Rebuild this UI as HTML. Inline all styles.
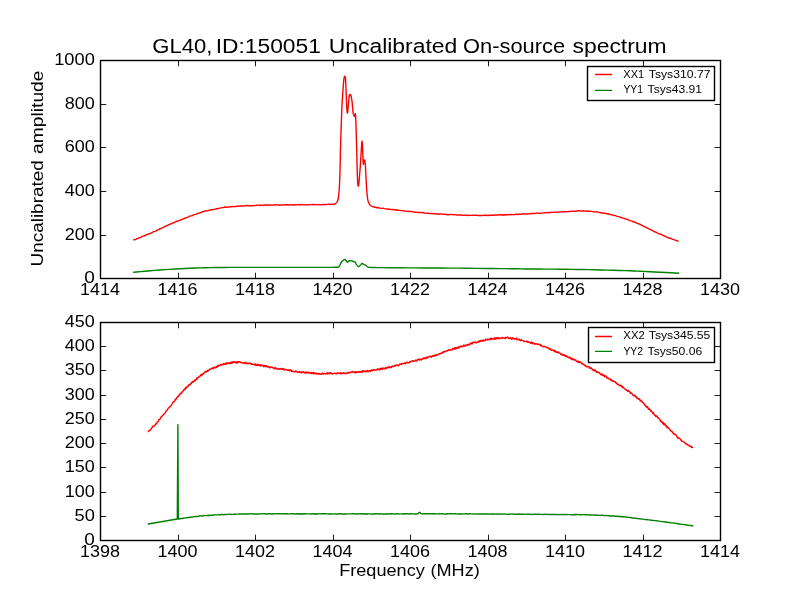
<!DOCTYPE html>
<html><head><meta charset="utf-8"><style>
html,body{margin:0;padding:0;background:#fff;}
svg{display:block;will-change:transform;}
text{font-family:"Liberation Sans",sans-serif;fill:#000;}
</style></head><body>
<svg width="800" height="600" viewBox="0 0 800 600">
<rect x="0" y="0" width="800" height="600" fill="#fff"/>
<text x="152.37" y="52.80" font-size="19.4" textLength="60.03" lengthAdjust="spacingAndGlyphs">GL40,</text><text x="215.72" y="52.80" font-size="19.4" textLength="105.10" lengthAdjust="spacingAndGlyphs">ID:150051</text><text x="328.67" y="52.80" font-size="19.4" textLength="128.72" lengthAdjust="spacingAndGlyphs">Uncalibrated</text><text x="462.97" y="52.80" font-size="19.4" textLength="102.16" lengthAdjust="spacingAndGlyphs">On-source</text><text x="572.44" y="52.80" font-size="19.4" textLength="94.24" lengthAdjust="spacingAndGlyphs">spectrum</text>
<g fill="none" stroke-linejoin="round" stroke-linecap="butt">
<polyline points="133.75,239.82 134.75,239.77 135.75,239.33 136.75,238.67 137.75,238.39 138.75,237.96 139.75,237.66 140.75,237.33 141.75,236.58 142.75,236.14 143.75,236.14 144.75,235.54 145.75,235.30 146.75,234.51 147.75,234.32 148.75,234.04 149.75,233.38 150.75,233.32 151.75,232.88 152.75,232.02 153.75,231.59 154.75,231.41 155.75,231.17 156.75,230.44 157.75,229.91 158.75,229.55 159.75,228.88 160.75,228.50 161.75,228.13 162.75,227.68 163.75,227.07 164.75,226.58 165.75,226.10 166.75,225.74 167.75,225.18 168.75,224.57 169.75,224.51 170.75,223.91 171.75,223.50 172.75,222.83 173.75,222.80 174.75,222.31 175.75,221.52 176.75,221.22 177.75,221.01 178.75,220.61 179.75,220.33 180.75,219.69 181.75,219.51 182.75,219.05 183.75,218.50 184.75,218.27 185.75,218.04 186.75,217.66 187.75,217.12 188.75,216.80 189.75,216.16 190.75,215.91 191.75,215.83 192.75,215.28 193.75,214.80 194.75,214.63 195.75,214.34 196.75,213.97 197.75,213.45 198.75,213.12 199.75,212.79 200.75,212.58 201.75,212.12 202.75,211.76 203.75,211.53 204.75,211.05 205.75,210.81 206.75,210.91 207.75,210.83 208.75,210.41 209.75,210.10 210.75,209.77 211.75,209.73 212.75,209.76 213.75,209.45 214.75,209.13 215.75,209.09 216.75,208.58 217.75,208.53 218.75,208.55 219.75,208.18 220.75,207.94 221.75,207.66 222.75,207.63 223.75,207.67 224.75,207.04 225.75,207.29 226.75,207.18 227.75,207.11 228.75,206.95 229.75,206.91 230.75,206.71 231.75,206.68 232.75,206.57 233.75,206.33 234.75,206.68 235.75,206.47 236.75,206.21 237.75,206.29 238.75,206.21 239.75,206.07 240.75,205.99 241.75,206.02 242.75,206.00 243.75,205.93 244.75,205.80 245.75,205.54 246.75,205.59 247.75,205.53 248.75,205.69 249.75,205.79 250.75,205.73 251.75,205.70 252.75,205.68 253.75,205.37 254.75,205.64 255.75,205.53 256.75,205.21 257.75,205.15 258.75,205.13 259.75,205.48 260.75,205.20 261.75,205.11 262.75,205.35 263.75,205.19 264.75,205.03 265.75,205.05 266.75,205.22 267.75,205.02 268.75,205.05 269.75,205.25 270.75,205.11 271.75,205.02 272.75,205.08 273.75,204.84 274.75,205.00 275.75,205.00 276.75,204.87 277.75,204.82 278.75,205.19 279.75,204.98 280.75,204.82 281.75,205.00 282.75,205.09 283.75,204.68 284.75,204.66 285.75,204.71 286.75,204.99 287.75,204.70 288.75,204.96 289.75,204.93 290.75,204.85 291.75,204.68 292.75,205.05 293.75,204.95 294.75,204.80 295.75,204.65 296.75,204.85 297.75,204.72 298.75,204.80 299.75,204.66 300.75,204.81 301.75,204.52 302.75,204.63 303.75,204.96 304.75,204.91 305.75,204.62 306.75,204.88 307.75,204.60 308.75,204.91 309.75,204.81 310.75,204.64 311.75,204.55 312.75,204.42 313.75,204.85 314.75,204.42 315.75,204.80 316.75,204.86 317.75,204.66 318.75,204.45 319.75,204.78 320.75,204.82 321.75,204.68 322.75,204.56 323.75,204.48 324.75,204.45 325.75,204.36 326.75,204.58 327.75,204.43 328.75,204.29 329.75,204.22 330.75,204.48 331.75,204.27 332.75,204.35 333.75,204.23 334.25,204.49 334.50,204.20 334.75,204.01 335.11,203.76 335.53,203.46 335.97,203.11 336.39,202.70 336.75,202.25 337.05,201.81 337.32,201.38 337.57,200.91 337.81,200.32 338.03,199.54 338.25,198.50 338.46,197.23 338.65,195.78 338.83,194.14 338.99,192.31 339.15,190.26 339.30,188.00 339.44,185.49 339.57,182.72 339.68,179.75 339.79,176.61 339.90,173.35 340.00,170.00 340.09,166.51 340.17,162.83 340.25,159.03 340.32,155.17 340.40,151.30 340.50,147.50 340.61,143.72 340.73,139.91 340.86,136.09 340.99,132.31 341.12,128.61 341.25,125.00 341.37,121.46 341.49,117.96 341.61,114.53 341.73,111.20 341.86,108.02 342.00,105.00 342.15,102.18 342.31,99.53 342.48,97.01 342.65,94.61 342.82,92.28 343.00,90.00 343.18,87.66 343.35,85.27 343.53,82.96 343.71,80.86 343.90,79.09 344.10,77.80 344.31,76.95 344.54,76.44 344.78,76.28 345.01,76.44 345.22,76.95 345.40,77.80 345.54,79.06 345.64,80.75 345.73,82.77 345.81,85.05 345.90,87.49 346.00,90.00 346.12,92.81 346.26,96.05 346.39,99.45 346.53,102.75 346.67,105.69 346.80,108.00 346.92,109.74 347.04,111.11 347.15,112.12 347.26,112.78 347.38,113.07 347.50,113.00 347.63,112.43 347.75,111.33 347.88,109.88 348.01,108.22 348.15,106.54 348.30,105.00 348.46,103.47 348.62,101.80 348.79,100.09 348.96,98.48 349.13,97.08 349.30,96.00 349.47,95.27 349.63,94.80 349.80,94.53 349.97,94.43 350.13,94.43 350.30,94.50 350.47,94.64 350.64,94.91 350.81,95.28 350.97,95.76 351.14,96.33 351.30,97.00 351.46,97.76 351.61,98.63 351.76,99.59 351.91,100.65 352.06,101.79 352.20,103.00 352.34,104.40 352.47,106.00 352.61,107.69 352.74,109.33 352.87,110.81 353.00,112.00 353.13,112.86 353.27,113.50 353.41,113.97 353.54,114.33 353.67,114.66 353.80,115.00 353.92,115.38 354.05,115.76 354.17,116.09 354.29,116.35 354.40,116.50 354.50,116.50 354.59,116.27 354.68,115.83 354.76,115.28 354.84,114.72 354.92,114.26 355.00,114.00 355.08,113.85 355.17,113.70 355.25,113.66 355.33,113.80 355.42,114.21 355.50,115.00 355.58,116.10 355.66,117.44 355.74,119.06 355.82,121.00 355.91,123.30 356.00,126.00 356.10,129.19 356.21,132.85 356.33,136.88 356.45,141.15 356.58,145.56 356.70,150.00 356.83,154.80 356.95,160.12 357.08,165.58 357.21,170.80 357.35,175.40 357.50,179.00 357.65,181.67 357.80,183.73 357.96,185.17 358.12,185.99 358.30,186.18 358.50,185.75 358.73,184.42 358.98,182.14 359.25,179.23 359.52,176.03 359.77,172.84 360.00,170.00 360.20,167.44 360.37,164.90 360.53,162.38 360.69,159.88 360.84,157.42 361.00,155.00 361.17,152.36 361.34,149.46 361.52,146.58 361.69,144.04 361.85,142.15 362.00,141.20 362.14,141.36 362.26,142.43 362.38,144.14 362.49,146.23 362.59,148.44 362.70,150.50 362.81,152.70 362.91,155.30 363.01,158.02 363.10,160.57 363.20,162.66 363.30,164.00 363.40,164.43 363.49,164.14 363.58,163.39 363.68,162.44 363.78,161.56 363.90,161.00 364.04,160.68 364.19,160.36 364.35,160.11 364.51,159.97 364.66,160.00 364.80,160.25 364.92,160.70 365.02,161.31 365.12,162.08 365.21,163.03 365.30,164.16 365.40,165.50 365.50,167.07 365.59,168.89 365.68,170.89 365.78,173.03 365.88,175.25 366.00,177.50 366.13,179.90 366.26,182.50 366.40,185.19 366.56,187.83 366.72,190.31 366.90,192.50 367.08,194.40 367.26,196.11 367.44,197.66 367.66,199.06 367.92,200.33 368.25,201.50 368.63,202.55 369.04,203.44 369.51,204.22 370.02,204.89 370.60,205.48 371.25,206.00 372.06,206.44 373.03,206.78 374.06,207.03 375.06,207.22 375.90,207.37 376.50,207.50 376.50,207.80 377.50,207.48 378.50,207.70 379.50,207.89 380.50,208.34 381.50,208.36 382.50,208.26 383.50,208.33 384.50,208.68 385.50,208.88 386.50,209.05 387.50,208.88 388.50,209.27 389.50,209.29 390.50,209.31 391.50,209.68 392.50,209.42 393.50,209.78 394.50,209.58 395.50,209.74 396.50,210.22 397.50,209.99 398.50,210.38 399.50,210.41 400.50,210.65 401.50,210.52 402.50,210.62 403.50,210.71 404.50,211.11 405.50,211.09 406.50,211.38 407.50,211.46 408.50,211.19 409.50,211.51 410.50,211.39 411.50,211.46 412.50,211.58 413.50,212.08 414.50,212.15 415.50,212.27 416.50,212.12 417.50,212.36 418.50,212.54 419.50,212.43 420.50,212.62 421.50,212.54 422.50,212.57 423.50,212.75 424.50,213.16 425.50,213.09 426.50,213.36 427.50,213.21 428.50,213.21 429.50,213.55 430.50,213.65 431.50,213.32 432.50,213.73 433.50,213.51 434.50,213.59 435.50,214.05 436.50,213.69 437.50,213.85 438.50,214.29 439.50,214.06 440.50,213.96 441.50,214.04 442.50,214.13 443.50,214.43 444.50,214.16 445.50,214.62 446.50,214.40 447.50,214.74 448.50,214.76 449.50,214.50 450.50,214.52 451.50,214.68 452.50,214.53 453.50,214.85 454.50,214.58 455.50,214.61 456.50,215.13 457.50,214.83 458.50,215.01 459.50,214.98 460.50,214.94 461.50,214.85 462.50,215.31 463.50,215.37 464.50,215.40 465.50,215.00 466.50,215.08 467.50,215.30 468.50,215.51 469.50,215.31 470.50,215.40 471.50,215.41 472.50,215.22 473.50,215.38 474.50,215.28 475.50,215.26 476.50,215.18 477.50,215.29 478.50,215.64 479.50,215.37 480.50,215.47 481.50,215.46 482.50,215.61 483.50,215.32 484.50,215.27 485.50,215.26 486.50,215.24 487.50,215.49 488.50,215.49 489.50,215.18 490.50,215.17 491.50,215.25 492.50,215.24 493.50,215.22 494.50,215.02 495.50,214.87 496.50,214.96 497.50,214.84 498.50,215.04 499.50,214.77 500.50,214.74 501.50,214.98 502.50,214.77 503.50,214.99 504.50,214.80 505.50,214.95 506.50,214.56 507.50,214.69 508.50,214.80 509.50,214.41 510.50,214.80 511.50,214.38 512.50,214.64 513.50,214.70 514.50,214.58 515.50,214.28 516.50,214.13 517.50,214.29 518.50,214.45 519.50,214.09 520.50,214.34 521.50,213.91 522.50,214.24 523.50,213.75 524.50,213.84 525.50,214.09 526.50,213.98 527.50,213.98 528.50,213.89 529.50,213.79 530.50,213.71 531.50,213.40 532.50,213.47 533.50,213.28 534.50,213.50 535.50,213.43 536.50,213.16 537.50,213.02 538.50,213.41 539.50,213.28 540.50,213.10 541.50,213.04 542.50,213.14 543.50,212.89 544.50,212.81 545.50,212.73 546.50,212.63 547.50,212.46 548.50,212.72 549.50,212.55 550.50,212.57 551.50,212.26 552.50,212.35 553.50,212.18 554.50,212.12 555.50,212.13 556.50,212.36 557.50,212.09 558.50,212.03 559.50,212.08 560.50,211.84 561.50,211.67 562.50,211.87 563.50,211.80 564.50,211.81 565.50,211.64 566.50,211.71 567.50,211.67 568.50,211.36 569.50,211.43 570.50,211.36 571.50,211.18 572.50,211.21 573.50,211.23 574.50,211.35 575.50,211.30 576.50,210.93 577.50,211.07 578.50,210.74 579.50,210.72 580.50,210.91 581.50,211.07 582.50,210.71 583.50,211.01 584.50,211.09 585.50,210.83 586.50,211.07 587.50,211.20 588.50,211.03 589.50,211.27 590.50,211.37 591.50,211.39 592.50,211.63 593.50,211.76 594.50,211.91 595.50,211.85 596.50,211.79 597.50,211.98 598.50,212.12 599.50,212.46 600.50,212.72 601.50,212.54 602.50,213.02 603.50,213.22 604.50,213.21 605.50,213.47 606.50,213.48 607.50,213.96 608.50,213.81 609.50,214.48 610.50,214.61 611.50,214.74 612.50,214.79 613.50,215.35 614.50,215.63 615.50,215.48 616.50,216.08 617.50,216.41 618.50,216.62 619.50,216.95 620.50,217.15 621.50,217.72 622.50,218.08 623.50,218.13 624.50,218.69 625.50,218.85 626.50,219.07 627.50,219.51 628.50,219.77 629.50,220.53 630.50,220.92 631.50,220.86 632.50,221.48 633.50,221.76 634.50,222.00 635.50,222.49 636.50,222.88 637.50,223.55 638.50,223.61 639.50,224.14 640.50,224.72 641.50,224.98 642.50,225.75 643.50,226.22 644.50,226.83 645.50,227.01 646.50,227.54 647.50,228.17 648.50,228.53 649.50,229.18 650.50,229.50 651.50,230.20 652.50,230.74 653.50,231.22 654.50,231.77 655.50,232.03 656.50,232.46 657.50,233.11 658.50,233.52 659.50,233.88 660.50,234.23 661.50,234.63 662.50,234.97 663.50,235.75 664.50,235.83 665.50,236.56 666.50,236.87 667.50,237.48 668.50,237.77 669.50,238.26 670.50,238.22 671.50,238.79 672.50,239.20 673.50,239.44 674.50,239.91 675.50,240.21 676.50,240.67 677.50,240.78 678.00,241.19" stroke="#ff0000" stroke-width="1.4" stroke-linecap="round"/>
<polyline points="133.75,272.20 136.56,271.96 140.42,271.61 145.00,271.21 150.00,270.79 155.10,270.37 160.00,270.00 164.78,269.66 169.72,269.33 174.77,269.01 179.86,268.70 184.96,268.43 190.00,268.20 195.00,268.01 200.00,267.86 205.00,267.74 210.00,267.65 215.00,267.57 220.00,267.50 224.88,267.45 229.63,267.42 234.38,267.41 239.26,267.40 244.42,267.40 250.00,267.40 256.20,267.39 262.96,267.39 270.00,267.39 277.04,267.40 283.80,267.40 290.00,267.40 295.74,267.40 301.26,267.40 306.50,267.41 311.41,267.41 315.93,267.41 320.00,267.40 323.64,267.39 326.89,267.37 329.75,267.36 332.22,267.34 334.31,267.32 336.00,267.30 337.15,267.30 337.72,267.31 337.91,267.32 337.89,267.31 337.86,267.28 338.00,267.20 338.27,267.10 338.52,266.99 338.75,266.84 338.98,266.65 339.23,266.37 339.50,266.00 339.79,265.48 340.09,264.82 340.41,264.08 340.74,263.33 341.10,262.61 341.50,262.00 341.96,261.46 342.48,260.93 343.03,260.44 343.57,260.02 344.08,259.70 344.50,259.50 344.84,259.46 345.11,259.55 345.34,259.74 345.56,259.99 345.77,260.25 346.00,260.50 346.24,260.78 346.48,261.13 346.72,261.51 346.96,261.84 347.22,262.09 347.50,262.20 347.80,262.11 348.11,261.87 348.44,261.54 348.78,261.19 349.13,260.88 349.50,260.70 349.88,260.64 350.28,260.63 350.69,260.68 351.11,260.77 351.55,260.88 352.00,261.00 352.49,261.14 353.02,261.29 353.56,261.47 354.09,261.69 354.58,261.93 355.00,262.20 355.33,262.52 355.59,262.90 355.81,263.30 356.02,263.71 356.24,264.12 356.50,264.50 356.80,264.89 357.13,265.32 357.47,265.74 357.81,266.10 358.16,266.37 358.50,266.50 358.84,266.45 359.19,266.26 359.53,265.97 359.87,265.63 360.20,265.29 360.50,265.00 360.77,264.72 361.02,264.41 361.25,264.09 361.48,263.81 361.73,263.61 362.00,263.50 362.30,263.52 362.63,263.65 362.97,263.84 363.31,264.07 363.66,264.30 364.00,264.50 364.33,264.66 364.67,264.81 365.00,264.97 365.33,265.13 365.67,265.30 366.00,265.50 366.31,265.73 366.59,266.00 366.88,266.28 367.19,266.56 367.55,266.80 368.00,267.00 368.27,267.14 368.30,267.25 368.38,267.32 368.81,267.39 369.92,267.44 372.00,267.50 375.02,267.56 378.74,267.61 383.12,267.66 388.15,267.71 393.78,267.75 400.00,267.80 407.06,267.85 415.04,267.89 423.62,267.94 432.52,267.99 441.41,268.04 450.00,268.10 458.56,268.17 467.41,268.26 476.25,268.34 484.81,268.43 492.82,268.52 500.00,268.60 506.16,268.67 511.48,268.75 516.25,268.82 520.74,268.89 525.23,268.95 530.00,269.00 534.94,269.04 539.81,269.07 544.69,269.09 549.63,269.11 554.71,269.15 560.00,269.20 565.54,269.27 571.30,269.36 577.19,269.45 583.15,269.56 589.11,269.67 595.00,269.80 601.01,269.94 607.22,270.11 613.44,270.28 619.44,270.46 625.03,270.63 630.00,270.80 634.10,270.95 637.46,271.09 640.40,271.22 643.25,271.36 646.34,271.52 650.00,271.70 654.61,271.93 659.97,272.21 665.58,272.51 670.90,272.79 675.43,273.03 678.65,273.20" stroke="#008000" stroke-width="1.4" stroke-linecap="round"/>
<polyline points="148.30,431.63 148.80,430.87 149.30,430.50 149.80,430.59 150.30,429.91 150.80,429.08 151.30,428.80 151.80,427.84 152.30,427.04 152.80,426.19 153.30,426.09 153.80,426.07 154.30,425.99 154.80,425.36 155.30,424.31 155.80,424.52 156.30,423.12 156.80,423.15 157.30,421.90 157.80,421.86 158.30,421.67 158.80,419.98 159.30,419.17 159.80,419.28 160.30,418.53 160.80,417.63 161.30,416.44 161.80,416.42 162.30,415.84 162.80,415.17 163.30,415.26 163.80,414.17 164.30,413.77 164.80,413.39 165.30,412.51 165.80,411.45 166.30,411.22 166.80,410.41 167.30,409.79 167.80,409.13 168.30,408.15 168.80,407.88 169.30,407.27 169.80,407.13 170.30,406.27 170.80,405.76 171.30,405.02 171.80,404.48 172.30,403.54 172.80,402.52 173.30,401.78 173.80,401.89 174.30,401.55 174.80,400.42 175.30,399.19 175.80,399.68 176.30,398.53 176.80,397.91 177.30,396.64 177.80,396.80 178.30,396.59 178.80,395.50 179.30,394.82 179.80,394.73 180.30,393.15 180.80,393.37 181.30,393.53 181.80,392.58 182.30,391.58 182.80,391.51 183.30,390.85 183.80,389.69 184.30,389.18 184.80,389.75 185.30,388.26 185.80,387.46 186.30,388.18 186.80,387.20 187.30,386.48 187.80,386.24 188.30,386.14 188.80,384.78 189.30,385.11 189.80,384.77 190.30,384.51 190.80,383.21 191.30,383.34 191.80,382.33 192.30,382.45 192.80,381.43 193.30,382.02 193.80,381.74 194.30,380.47 194.80,379.90 195.30,380.67 195.80,379.85 196.30,379.65 196.80,377.93 197.30,378.90 197.80,378.03 198.30,377.11 198.80,376.87 199.30,376.97 199.80,376.59 200.30,375.23 200.80,375.52 201.30,374.38 201.80,375.29 202.30,374.07 202.80,374.46 203.30,373.81 203.80,373.28 204.30,372.40 204.80,372.50 205.30,371.58 205.80,371.28 206.30,371.92 206.80,371.07 207.30,371.43 207.80,370.35 208.30,370.85 208.80,370.60 209.30,369.70 209.80,369.14 210.30,369.36 210.80,369.28 211.30,368.42 211.80,368.33 212.30,367.89 212.80,368.53 213.30,368.77 213.80,367.47 214.30,366.96 214.80,367.81 215.30,367.77 215.80,367.79 216.30,367.01 216.80,366.37 217.30,366.95 217.80,365.59 218.30,366.30 218.80,365.14 219.30,365.44 219.80,365.40 220.30,365.02 220.80,364.51 221.30,364.43 221.80,365.21 222.30,364.47 222.80,364.51 223.30,363.77 223.80,364.44 224.30,363.69 224.80,363.98 225.30,364.37 225.80,364.39 226.30,362.77 226.80,363.87 227.30,363.87 227.80,362.92 228.30,362.94 228.80,363.17 229.30,363.64 229.80,362.74 230.30,363.44 230.80,363.18 231.30,362.16 231.80,363.32 232.30,361.83 232.80,362.00 233.30,362.79 233.80,361.78 234.30,362.26 234.80,361.84 235.30,362.35 235.80,362.93 236.30,363.03 236.80,361.62 237.30,361.66 237.80,362.91 238.30,361.64 238.80,362.02 239.30,361.78 239.80,361.76 240.30,361.69 240.80,362.69 241.30,362.90 241.80,362.85 242.30,363.15 242.80,362.90 243.30,362.52 243.80,362.96 244.30,363.56 244.80,363.09 245.30,362.52 245.80,362.29 246.30,363.76 246.80,363.28 247.30,362.97 247.80,363.45 248.30,363.45 248.80,363.47 249.30,362.81 249.80,363.35 250.30,363.52 250.80,363.26 251.30,364.43 251.80,363.77 252.30,364.23 252.80,364.40 253.30,364.52 253.80,364.57 254.30,364.70 254.80,363.98 255.30,365.23 255.80,363.99 256.30,365.31 256.80,365.29 257.30,365.38 257.80,364.19 258.30,364.34 258.80,365.59 259.30,365.13 259.80,365.07 260.30,366.14 260.80,364.73 261.30,365.61 261.80,365.56 262.30,365.15 262.80,365.67 263.30,366.26 263.80,366.64 264.30,365.36 264.80,366.25 265.30,365.65 265.80,366.87 266.30,365.82 266.80,365.83 267.30,366.48 267.80,367.13 268.30,366.55 268.80,366.35 269.30,367.51 269.80,367.62 270.30,367.79 270.80,366.99 271.30,367.28 271.80,367.08 272.30,367.67 272.80,367.40 273.30,367.50 273.80,368.30 274.30,368.67 274.80,368.16 275.30,367.48 275.80,368.44 276.30,368.20 276.80,369.15 277.30,368.80 277.80,369.07 278.30,368.94 278.80,368.75 279.30,369.41 279.80,369.39 280.30,368.60 280.80,368.46 281.30,368.88 281.80,369.20 282.30,368.59 282.80,369.06 283.30,369.51 283.80,368.73 284.30,370.04 284.80,369.85 285.30,369.38 285.80,369.43 286.30,369.59 286.80,369.62 287.30,370.38 287.80,370.06 288.30,370.18 288.80,369.65 289.30,370.95 289.80,370.09 290.30,370.17 290.80,369.84 291.30,371.37 291.80,370.65 292.30,371.43 292.80,371.53 293.30,371.68 293.80,371.51 294.30,371.76 294.80,371.84 295.30,371.72 295.80,370.73 296.30,371.43 296.80,371.59 297.30,372.33 297.80,372.07 298.30,372.01 298.80,372.15 299.30,371.60 299.80,372.60 300.30,372.19 300.80,371.87 301.30,372.03 301.80,372.92 302.30,372.26 302.80,371.74 303.30,371.76 303.80,372.68 304.30,372.54 304.80,373.15 305.30,372.04 305.80,372.46 306.30,373.02 306.80,371.98 307.30,372.11 307.80,372.88 308.30,372.47 308.80,372.27 309.30,372.56 309.80,373.20 310.30,373.07 310.80,372.39 311.30,372.42 311.80,373.70 312.30,373.41 312.80,372.69 313.30,373.82 313.80,372.51 314.30,373.09 314.80,373.89 315.30,373.69 315.80,373.03 316.30,374.02 316.80,373.57 317.30,374.02 317.80,374.08 318.30,373.34 318.80,373.76 319.30,373.56 319.80,374.21 320.30,373.98 320.80,373.87 321.30,374.01 321.80,374.31 322.30,373.12 322.80,373.04 323.30,373.91 323.80,373.94 324.30,373.53 324.80,373.48 325.30,373.34 325.80,374.10 326.30,373.95 326.80,373.61 327.30,372.73 327.80,374.01 328.30,373.38 328.80,372.94 329.30,373.10 329.80,373.71 330.30,372.60 330.80,372.78 331.30,373.05 331.80,373.98 332.30,373.74 332.80,374.08 333.30,373.38 333.80,373.41 334.30,373.37 334.80,373.31 335.30,373.32 335.80,373.75 336.30,373.95 336.80,373.06 337.30,373.40 337.80,372.86 338.30,372.84 338.80,373.15 339.30,373.26 339.80,373.18 340.30,373.85 340.80,372.53 341.30,373.27 341.80,373.82 342.30,373.38 342.80,373.09 343.30,372.75 343.80,372.77 344.30,373.60 344.80,373.51 345.30,373.12 345.80,373.45 346.30,373.46 346.80,373.30 347.30,372.52 347.80,372.61 348.30,373.11 348.80,372.39 349.30,372.96 349.80,372.49 350.30,372.22 350.80,372.38 351.30,371.79 351.80,372.14 352.30,372.20 352.80,371.53 353.30,371.74 353.80,371.84 354.30,372.76 354.80,372.30 355.30,371.78 355.80,372.88 356.30,371.66 356.80,372.03 357.30,372.35 357.80,372.24 358.30,371.79 358.80,372.30 359.30,371.80 359.80,372.12 360.30,371.73 360.80,372.45 361.30,372.00 361.80,370.96 362.30,370.98 362.80,372.27 363.30,371.05 363.80,370.67 364.30,370.99 364.80,371.30 365.30,372.01 365.80,371.07 366.30,371.53 366.80,371.66 367.30,370.41 367.80,371.18 368.30,371.74 368.80,370.96 369.30,370.87 369.80,370.51 370.30,371.40 370.80,371.37 371.30,369.91 371.80,370.55 372.30,370.27 372.80,370.59 373.30,369.63 373.80,369.79 374.30,369.73 374.80,369.96 375.30,370.38 375.80,370.40 376.30,370.20 376.80,369.94 377.30,368.90 377.80,369.30 378.30,369.65 378.80,368.96 379.30,369.21 379.80,369.75 380.30,368.39 380.80,369.48 381.30,368.18 381.80,368.53 382.30,369.26 382.80,368.04 383.30,368.45 383.80,368.18 384.30,368.83 384.80,368.89 385.30,367.66 385.80,367.88 386.30,368.42 386.80,367.76 387.30,367.12 387.80,367.89 388.30,367.10 388.80,367.23 389.30,366.36 389.80,367.81 390.30,367.17 390.80,367.49 391.30,367.45 391.80,366.21 392.30,366.53 392.80,366.25 393.30,366.65 393.80,366.66 394.30,365.56 394.80,365.51 395.30,366.08 395.80,365.49 396.30,364.91 396.80,364.89 397.30,365.35 397.80,365.29 398.30,365.74 398.80,364.93 399.30,364.93 399.80,364.06 400.30,364.36 400.80,364.02 401.30,364.55 401.80,363.74 402.30,363.52 402.80,363.64 403.30,363.67 403.80,363.33 404.30,363.63 404.80,362.82 405.30,363.81 405.80,363.39 406.30,363.00 406.80,362.11 407.30,362.41 407.80,362.87 408.30,362.67 408.80,362.81 409.30,362.81 409.80,361.77 410.30,361.93 410.80,361.54 411.30,361.09 411.80,360.99 412.30,361.06 412.80,360.67 413.30,361.27 413.80,361.41 414.30,361.07 414.80,361.14 415.30,360.29 415.80,360.13 416.30,360.60 416.80,360.99 417.30,360.13 417.80,359.35 418.30,359.25 418.80,359.59 419.30,359.97 419.80,359.00 420.30,359.10 420.80,359.71 421.30,360.08 421.80,358.93 422.30,359.22 422.80,358.96 423.30,358.04 423.80,358.41 424.30,357.97 424.80,358.02 425.30,358.72 425.80,358.45 426.30,357.29 426.80,357.21 427.30,358.11 427.80,356.97 428.30,357.17 428.80,356.95 429.30,356.46 429.80,356.28 430.30,356.30 430.80,356.56 431.30,357.26 431.80,356.63 432.30,355.83 432.80,356.37 433.30,355.56 433.80,355.78 434.30,355.30 434.80,356.13 435.30,355.00 435.80,355.55 436.30,355.12 436.80,355.26 437.30,354.71 437.80,354.95 438.30,354.02 438.80,354.28 439.30,354.01 439.80,353.68 440.30,353.55 440.80,353.32 441.30,352.91 441.80,353.54 442.30,352.93 442.80,352.61 443.30,351.64 443.80,352.19 444.30,351.47 444.80,351.36 445.30,351.53 445.80,351.53 446.30,350.88 446.80,350.74 447.30,350.98 447.80,350.72 448.30,350.43 448.80,349.79 449.30,350.05 449.80,350.33 450.30,349.99 450.80,349.83 451.30,350.15 451.80,349.79 452.30,349.57 452.80,348.37 453.30,348.65 453.80,349.09 454.30,348.09 454.80,349.15 455.30,347.76 455.80,348.79 456.30,347.57 456.80,348.42 457.30,348.28 457.80,347.31 458.30,348.04 458.80,346.73 459.30,347.68 459.80,346.78 460.30,346.73 460.80,346.06 461.30,346.69 461.80,346.01 462.30,346.50 462.80,346.56 463.30,346.10 463.80,345.00 464.30,346.37 464.80,346.17 465.30,345.58 465.80,345.02 466.30,345.16 466.80,345.53 467.30,344.71 467.80,345.08 468.30,344.65 468.80,344.22 469.30,344.89 469.80,343.91 470.30,344.08 470.80,343.05 471.30,343.58 471.80,342.74 472.30,343.66 472.80,342.39 473.30,342.31 473.80,342.28 474.30,342.18 474.80,342.63 475.30,342.24 475.80,341.96 476.30,342.96 476.80,342.70 477.30,342.16 477.80,342.26 478.30,342.15 478.80,341.10 479.30,341.86 479.80,340.82 480.30,341.21 480.80,340.76 481.30,340.32 481.80,341.19 482.30,341.29 482.80,340.21 483.30,341.00 483.80,340.04 484.30,340.43 484.80,340.87 485.30,340.41 485.80,339.16 486.30,339.67 486.80,339.48 487.30,339.25 487.80,340.00 488.30,339.31 488.80,339.64 489.30,339.45 489.80,339.18 490.30,338.36 490.80,339.27 491.30,339.54 491.80,338.32 492.30,339.00 492.80,338.69 493.30,338.39 493.80,338.91 494.30,339.28 494.80,337.69 495.30,339.04 495.80,338.17 496.30,338.84 496.80,337.74 497.30,338.56 497.80,337.54 498.30,337.88 498.80,338.86 499.30,338.33 499.80,338.50 500.30,337.96 500.80,337.95 501.30,337.97 501.80,338.40 502.30,338.31 502.80,337.45 503.30,337.84 503.80,337.99 504.30,338.04 504.80,338.60 505.30,338.47 505.80,337.37 506.30,337.74 506.80,337.33 507.30,337.21 507.80,337.30 508.30,337.50 508.80,338.46 509.30,338.33 509.80,338.57 510.30,337.79 510.80,337.62 511.30,338.97 511.80,338.78 512.30,339.03 512.80,337.60 513.30,338.26 513.80,338.71 514.30,338.94 514.80,339.30 515.30,338.78 515.80,338.63 516.30,338.10 516.80,339.47 517.30,339.86 517.80,339.84 518.30,339.56 518.80,339.16 519.30,339.12 519.80,340.09 520.30,340.48 520.80,340.65 521.30,339.52 521.80,340.31 522.30,340.33 522.80,340.33 523.30,341.06 523.80,341.43 524.30,341.23 524.80,341.34 525.30,341.47 525.80,341.55 526.30,341.50 526.80,341.18 527.30,342.18 527.80,341.26 528.30,342.23 528.80,341.95 529.30,342.36 529.80,342.62 530.30,342.48 530.80,343.40 531.30,342.34 531.80,342.09 532.30,343.71 532.80,342.79 533.30,342.85 533.80,343.18 534.30,343.58 534.80,344.32 535.30,344.00 535.80,343.50 536.30,343.97 536.80,343.97 537.30,344.20 537.80,344.21 538.30,343.96 538.80,344.49 539.30,344.64 539.80,344.51 540.30,345.68 540.80,345.13 541.30,344.98 541.80,345.83 542.30,346.47 542.80,346.56 543.30,346.51 543.80,346.88 544.30,346.45 544.80,346.35 545.30,346.73 545.80,347.09 546.30,347.19 546.80,347.70 547.30,347.40 547.80,347.59 548.30,348.00 548.80,348.12 549.30,349.30 549.80,349.10 550.30,348.77 550.80,349.36 551.30,350.28 551.80,350.03 552.30,350.21 552.80,350.17 553.30,350.07 553.80,350.98 554.30,350.32 554.80,351.67 555.30,350.73 555.80,352.05 556.30,351.69 556.80,352.39 557.30,352.46 557.80,351.94 558.30,352.81 558.80,352.29 559.30,352.78 559.80,353.22 560.30,353.29 560.80,354.11 561.30,354.84 561.80,354.05 562.30,355.04 562.80,354.28 563.30,355.27 563.80,354.91 564.30,355.43 564.80,354.93 565.30,356.33 565.80,355.56 566.30,356.19 566.80,356.13 567.30,357.18 567.80,357.05 568.30,357.31 568.80,357.75 569.30,357.17 569.80,357.08 570.30,358.53 570.80,357.93 571.30,358.95 571.80,359.41 572.30,359.11 572.80,358.49 573.30,359.92 573.80,359.80 574.30,359.41 574.80,359.57 575.30,360.29 575.80,359.90 576.30,361.39 576.80,361.31 577.30,361.73 577.80,361.27 578.30,362.37 578.80,361.35 579.30,362.53 579.80,362.04 580.30,361.89 580.80,362.33 581.30,362.71 581.80,363.86 582.30,363.51 582.80,363.93 583.30,364.41 583.80,364.12 584.30,364.98 584.80,365.30 585.30,365.97 585.80,365.58 586.30,366.41 586.80,366.87 587.30,366.83 587.80,366.55 588.30,366.59 588.80,366.59 589.30,368.05 589.80,367.21 590.30,368.18 590.80,368.29 591.30,367.92 591.80,368.48 592.30,369.73 592.80,369.56 593.30,370.46 593.80,370.72 594.30,369.70 594.80,370.91 595.30,370.17 595.80,371.06 596.30,371.37 596.80,372.47 597.30,372.16 597.80,371.79 598.30,372.57 598.80,372.86 599.30,372.61 599.80,373.14 600.30,374.24 600.80,374.67 601.30,374.61 601.80,373.74 602.30,375.35 602.80,374.91 603.30,375.78 603.80,375.00 604.30,375.22 604.80,376.71 605.30,375.99 605.80,375.88 606.30,376.89 606.80,377.96 607.30,377.99 607.80,377.58 608.30,378.82 608.80,378.80 609.30,379.16 609.80,379.14 610.30,379.04 610.80,380.15 611.30,379.76 611.80,380.80 612.30,380.50 612.80,381.37 613.30,380.99 613.80,381.22 614.30,381.79 614.80,381.67 615.30,381.71 615.80,382.73 616.30,383.47 616.80,382.88 617.30,384.14 617.80,384.34 618.30,384.65 618.80,384.40 619.30,385.67 619.80,385.67 620.30,385.66 620.80,385.26 621.30,386.34 621.80,385.79 622.30,387.56 622.80,387.00 623.30,387.41 623.80,388.05 624.30,388.55 624.80,388.82 625.30,389.03 625.80,389.63 626.30,390.33 626.80,390.06 627.30,390.51 627.80,391.37 628.30,390.44 628.80,391.06 629.30,391.69 629.80,391.88 630.30,393.33 630.80,392.50 631.30,392.80 631.80,393.49 632.30,394.16 632.80,395.02 633.30,395.67 633.80,395.80 634.30,395.78 634.80,395.23 635.30,395.64 635.80,396.93 636.30,397.61 636.80,397.11 637.30,398.63 637.80,398.36 638.30,398.80 638.80,399.29 639.30,398.84 639.80,399.42 640.30,401.09 640.80,400.46 641.30,400.63 641.80,401.41 642.30,402.59 642.80,402.33 643.30,402.73 643.80,403.33 644.30,404.15 644.80,405.06 645.30,404.87 645.80,406.29 646.30,406.96 646.80,407.23 647.30,406.55 647.80,407.44 648.30,408.93 648.80,409.33 649.30,408.68 649.80,409.68 650.30,410.06 650.80,411.18 651.30,410.54 651.80,411.50 652.30,412.69 652.80,413.42 653.30,412.56 653.80,413.94 654.30,414.56 654.80,415.40 655.30,415.18 655.80,416.56 656.30,415.82 656.80,416.18 657.30,416.71 657.80,417.94 658.30,417.70 658.80,418.43 659.30,418.82 659.80,419.10 660.30,421.05 660.80,420.55 661.30,422.06 661.80,422.17 662.30,421.87 662.80,423.52 663.30,422.54 663.80,424.60 664.30,423.59 664.80,424.44 665.30,425.42 665.80,425.05 666.30,426.76 666.80,426.17 667.30,427.84 667.80,427.08 668.30,428.37 668.80,428.35 669.30,428.97 669.80,429.78 670.30,430.07 670.80,430.59 671.30,431.50 671.80,431.25 672.30,431.71 672.80,432.99 673.30,432.85 673.80,434.34 674.30,434.00 674.80,434.55 675.30,434.29 675.80,434.74 676.30,435.33 676.80,436.61 677.30,437.11 677.80,438.00 678.30,437.60 678.80,438.46 679.30,438.28 679.80,438.26 680.30,439.21 680.80,440.05 681.30,440.59 681.80,441.21 682.30,441.39 682.80,441.32 683.30,441.66 683.80,441.94 684.30,442.25 684.80,442.93 685.30,443.10 685.80,443.90 686.30,443.59 686.80,443.96 687.30,444.87 687.80,444.96 688.30,445.05 688.80,445.45 689.30,446.17 689.80,446.18 690.30,445.96 690.80,446.37 691.30,447.18 691.80,446.62 692.30,447.61" stroke="#ff0000" stroke-width="1.4" stroke-linecap="round"/>
<polyline points="148.20,524.00 177.30,519.00 177.30,519.00 177.90,424.75 178.30,519.00 178.30,519.12 179.30,518.77 180.30,518.68 181.30,518.61 182.30,518.52 183.30,518.30 184.30,518.13 185.30,517.91 186.30,517.78 187.30,517.70 188.30,517.48 189.30,517.48 190.30,517.11 191.30,517.21 192.30,517.07 193.30,516.80 194.30,516.58 195.30,516.54 196.30,516.49 197.30,516.43 198.30,516.33 199.30,516.02 200.30,515.88 201.30,515.80 202.30,515.97 203.30,515.78 204.30,515.54 205.30,515.64 206.30,515.65 207.30,515.47 208.30,515.29 209.30,515.45 210.30,515.31 211.30,515.09 212.30,515.21 213.30,515.07 214.30,515.04 215.30,514.92 216.30,514.85 217.30,514.84 218.30,514.82 219.30,514.75 220.30,514.83 221.30,514.54 222.30,514.54 223.30,514.71 224.30,514.57 225.30,514.54 226.30,514.50 227.30,514.35 228.30,514.36 229.30,514.27 230.30,514.22 231.30,514.44 232.30,514.33 233.30,514.34 234.30,514.05 235.30,514.23 236.30,514.08 237.30,514.12 238.30,514.14 239.30,513.93 240.30,514.01 241.30,514.05 242.30,514.13 243.30,514.01 244.30,513.94 245.30,514.01 246.30,514.00 247.30,513.90 248.30,513.97 249.30,513.88 250.30,513.80 251.30,513.88 252.30,513.81 253.30,513.93 254.30,513.92 255.30,514.03 256.30,513.99 257.30,513.99 258.30,514.05 259.30,513.83 260.30,513.86 261.30,513.82 262.30,513.77 263.30,513.90 264.30,513.89 265.30,513.77 266.30,514.01 267.30,514.03 268.30,513.75 269.30,513.73 270.30,513.75 271.30,513.95 272.30,513.98 273.30,513.74 274.30,513.73 275.30,513.88 276.30,513.82 277.30,513.73 278.30,513.72 279.30,513.78 280.30,513.78 281.30,513.81 282.30,513.89 283.30,513.80 284.30,513.79 285.30,513.78 286.30,513.99 287.30,513.79 288.30,513.89 289.30,513.86 290.30,513.82 291.30,513.84 292.30,513.73 293.30,513.78 294.30,513.92 295.30,513.95 296.30,513.79 297.30,513.78 298.30,514.00 299.30,513.76 300.30,513.97 301.30,513.99 302.30,513.77 303.30,513.98 304.30,513.77 305.30,513.74 306.30,513.82 307.30,513.84 308.30,513.91 309.30,513.87 310.30,513.97 311.30,513.93 312.30,513.77 313.30,513.80 314.30,513.96 315.30,513.77 316.30,514.02 317.30,513.98 318.30,513.81 319.30,513.83 320.30,513.82 321.30,513.87 322.30,513.82 323.30,513.75 324.30,513.82 325.30,513.80 326.30,513.85 327.30,513.88 328.30,514.01 329.30,513.94 330.30,513.93 331.30,514.01 332.30,513.86 333.30,513.88 334.30,513.82 335.30,514.00 336.30,514.01 337.30,514.02 338.30,513.93 339.30,513.78 340.30,513.77 341.30,513.99 342.30,514.02 343.30,513.91 344.30,514.03 345.30,514.03 346.30,513.98 347.30,513.86 348.30,513.89 349.30,513.86 350.30,513.87 351.30,513.89 352.30,513.76 353.30,513.79 354.30,513.80 355.30,513.92 356.30,514.01 357.30,513.96 358.30,513.79 359.30,513.89 360.30,513.94 361.30,513.79 362.30,513.77 363.30,513.93 364.30,513.82 365.30,513.94 366.30,513.80 367.30,514.01 368.30,513.84 369.30,513.88 370.30,513.91 371.30,514.02 372.30,514.02 373.30,514.00 374.30,513.96 375.30,513.77 376.30,513.81 377.30,513.91 378.30,514.05 379.30,513.97 380.30,513.81 381.30,513.86 382.30,514.04 383.30,513.90 384.30,514.01 385.30,514.01 386.30,513.98 387.30,513.94 388.30,513.95 389.30,513.85 390.30,513.79 391.30,514.03 392.30,513.76 393.30,513.83 394.30,513.93 395.30,514.04 396.30,513.81 397.30,513.82 398.30,514.00 399.30,513.85 400.30,513.87 401.30,513.86 402.30,513.76 403.30,514.03 404.30,513.96 405.30,513.75 406.30,513.78 407.30,513.79 408.30,513.86 409.30,514.02 410.30,513.79 411.30,513.82 412.30,513.84 413.30,513.90 414.30,514.02 415.30,513.91 416.30,514.02 417.30,513.91 418.00,513.88 417.50,513.90 419.50,512.20 421.50,513.80 421.50,513.91 422.50,513.83 423.50,513.80 424.50,513.81 425.50,513.77 426.50,513.79 427.50,513.68 428.50,513.73 429.50,513.90 430.50,513.71 431.50,513.73 432.50,513.72 433.50,513.78 434.50,513.69 435.50,513.79 436.50,513.86 437.50,513.89 438.50,513.94 439.50,513.71 440.50,513.88 441.50,513.75 442.50,513.80 443.50,513.87 444.50,513.95 445.50,513.90 446.50,514.00 447.50,513.71 448.50,513.81 449.50,513.86 450.50,513.73 451.50,513.74 452.50,513.83 453.50,513.89 454.50,513.77 455.50,513.75 456.50,513.83 457.50,513.96 458.50,513.91 459.50,514.05 460.50,513.93 461.50,514.02 462.50,513.93 463.50,513.91 464.50,513.89 465.50,513.79 466.50,513.80 467.50,513.98 468.50,514.04 469.50,513.79 470.50,513.85 471.50,513.90 472.50,513.90 473.50,514.06 474.50,513.89 475.50,513.91 476.50,513.97 477.50,514.11 478.50,513.92 479.50,514.02 480.50,513.85 481.50,513.97 482.50,514.12 483.50,513.92 484.50,513.96 485.50,514.06 486.50,514.03 487.50,514.04 488.50,514.06 489.50,514.08 490.50,513.98 491.50,513.99 492.50,514.01 493.50,514.06 494.50,514.07 495.50,514.17 496.50,514.03 497.50,514.05 498.50,514.17 499.50,514.22 500.50,514.01 501.50,514.16 502.50,514.02 503.50,514.17 504.50,513.97 505.50,514.11 506.50,514.14 507.50,514.18 508.50,514.25 509.50,514.22 510.50,514.16 511.50,514.15 512.50,514.01 513.50,514.17 514.50,514.18 515.50,514.24 516.50,514.08 517.50,514.21 518.50,514.06 519.50,514.26 520.50,514.30 521.50,514.19 522.50,514.27 523.50,514.27 524.50,514.17 525.50,514.11 526.50,514.32 527.50,514.21 528.50,514.16 529.50,514.25 530.50,514.37 531.50,514.42 532.50,514.31 533.50,514.44 534.50,514.21 535.50,514.31 536.50,514.17 537.50,514.25 538.50,514.45 539.50,514.21 540.50,514.40 541.50,514.36 542.50,514.51 543.50,514.52 544.50,514.27 545.50,514.32 546.50,514.55 547.50,514.36 548.50,514.32 549.50,514.55 550.50,514.47 551.50,514.39 552.50,514.47 553.50,514.44 554.50,514.46 555.50,514.49 556.50,514.39 557.50,514.53 558.50,514.64 559.50,514.54 560.50,514.61 561.50,514.46 562.50,514.43 563.50,514.40 564.50,514.70 565.50,514.45 566.50,514.54 567.50,514.63 568.50,514.66 569.50,514.64 570.50,514.59 571.50,514.71 572.50,514.61 573.50,514.74 574.50,514.51 575.50,514.72 576.50,514.55 577.50,514.64 578.50,514.67 579.50,514.60 580.50,514.69 581.50,514.82 582.50,514.58 583.50,514.64 584.50,514.88 585.50,514.73 586.50,514.71 587.50,514.90 588.50,514.91 589.50,514.78 590.50,514.95 591.50,514.87 592.50,515.08 593.50,515.06 594.50,515.17 595.50,514.99 596.50,515.29 597.50,515.12 598.50,515.35 599.50,515.26 600.50,515.44 601.50,515.25 602.50,515.28 603.50,515.45 604.50,515.63 605.50,515.54 606.50,515.61 607.50,515.55 608.50,515.72 609.50,515.74 610.50,515.94 611.50,515.95 612.50,515.93 613.50,515.90 614.50,515.97 615.50,516.29 616.50,516.26 617.50,516.22 618.50,516.48 619.50,516.39 620.50,516.55 621.50,516.77 622.50,516.64 623.50,516.74 624.50,516.83 625.50,516.96 626.50,517.14 627.50,517.23 628.50,517.33 629.50,517.37 630.50,517.63 631.50,517.73 632.50,517.94 633.50,517.93 634.50,518.14 635.50,518.18 636.50,518.43 637.50,518.38 638.50,518.60 639.50,518.71 640.50,518.84 641.50,518.99 642.50,519.11 643.50,519.16 644.50,519.44 645.50,519.60 646.50,519.60 647.50,519.74 648.50,519.89 649.50,519.89 650.50,520.10 651.50,520.18 652.50,520.31 653.50,520.41 654.50,520.58 655.50,520.61 656.50,520.74 657.50,520.85 658.50,521.10 659.50,521.12 660.50,521.41 661.50,521.57 662.50,521.66 663.50,521.66 664.50,521.97 665.50,521.92 666.50,522.06 667.50,522.26 668.50,522.41 669.50,522.47 670.50,522.72 671.50,522.87 672.50,522.84 673.50,522.95 674.50,523.14 675.50,523.38 676.50,523.51 677.50,523.50 678.50,523.71 679.50,524.01 680.50,524.17 681.50,524.22 682.50,524.42 683.50,524.58 684.50,524.55 685.50,524.65 686.50,524.97 687.50,525.05 688.50,525.30 689.50,525.33 690.50,525.52 691.50,525.78 692.50,525.72 692.90,525.87" stroke="#008000" stroke-width="1.4" stroke-linecap="round"/>
</g>
<g stroke="#000" stroke-width="0.9">
<line x1="100.50" y1="278.5" x2="100.50" y2="272.70"/><line x1="100.50" y1="60.5" x2="100.50" y2="66.30"/><line x1="178.50" y1="278.5" x2="178.50" y2="272.70"/><line x1="178.50" y1="60.5" x2="178.50" y2="66.30"/><line x1="255.50" y1="278.5" x2="255.50" y2="272.70"/><line x1="255.50" y1="60.5" x2="255.50" y2="66.30"/><line x1="333.50" y1="278.5" x2="333.50" y2="272.70"/><line x1="333.50" y1="60.5" x2="333.50" y2="66.30"/><line x1="410.50" y1="278.5" x2="410.50" y2="272.70"/><line x1="410.50" y1="60.5" x2="410.50" y2="66.30"/><line x1="488.50" y1="278.5" x2="488.50" y2="272.70"/><line x1="488.50" y1="60.5" x2="488.50" y2="66.30"/><line x1="565.50" y1="278.5" x2="565.50" y2="272.70"/><line x1="565.50" y1="60.5" x2="565.50" y2="66.30"/><line x1="643.50" y1="278.5" x2="643.50" y2="272.70"/><line x1="643.50" y1="60.5" x2="643.50" y2="66.30"/><line x1="720.50" y1="278.5" x2="720.50" y2="272.70"/><line x1="720.50" y1="60.5" x2="720.50" y2="66.30"/>
<line x1="100.5" y1="278.50" x2="106.3" y2="278.50"/><line x1="720.5" y1="278.50" x2="714.7" y2="278.50"/><line x1="100.5" y1="235.50" x2="106.3" y2="235.50"/><line x1="720.5" y1="235.50" x2="714.7" y2="235.50"/><line x1="100.5" y1="191.50" x2="106.3" y2="191.50"/><line x1="720.5" y1="191.50" x2="714.7" y2="191.50"/><line x1="100.5" y1="147.50" x2="106.3" y2="147.50"/><line x1="720.5" y1="147.50" x2="714.7" y2="147.50"/><line x1="100.5" y1="104.50" x2="106.3" y2="104.50"/><line x1="720.5" y1="104.50" x2="714.7" y2="104.50"/><line x1="100.5" y1="60.50" x2="106.3" y2="60.50"/><line x1="720.5" y1="60.50" x2="714.7" y2="60.50"/>
<line x1="100.50" y1="540.5" x2="100.50" y2="534.70"/><line x1="100.50" y1="322.5" x2="100.50" y2="328.30"/><line x1="178.50" y1="540.5" x2="178.50" y2="534.70"/><line x1="178.50" y1="322.5" x2="178.50" y2="328.30"/><line x1="255.50" y1="540.5" x2="255.50" y2="534.70"/><line x1="255.50" y1="322.5" x2="255.50" y2="328.30"/><line x1="333.50" y1="540.5" x2="333.50" y2="534.70"/><line x1="333.50" y1="322.5" x2="333.50" y2="328.30"/><line x1="410.50" y1="540.5" x2="410.50" y2="534.70"/><line x1="410.50" y1="322.5" x2="410.50" y2="328.30"/><line x1="488.50" y1="540.5" x2="488.50" y2="534.70"/><line x1="488.50" y1="322.5" x2="488.50" y2="328.30"/><line x1="565.50" y1="540.5" x2="565.50" y2="534.70"/><line x1="565.50" y1="322.5" x2="565.50" y2="328.30"/><line x1="643.50" y1="540.5" x2="643.50" y2="534.70"/><line x1="643.50" y1="322.5" x2="643.50" y2="328.30"/><line x1="720.50" y1="540.5" x2="720.50" y2="534.70"/><line x1="720.50" y1="322.5" x2="720.50" y2="328.30"/>
<line x1="100.5" y1="540.50" x2="106.3" y2="540.50"/><line x1="720.5" y1="540.50" x2="714.7" y2="540.50"/><line x1="100.5" y1="516.50" x2="106.3" y2="516.50"/><line x1="720.5" y1="516.50" x2="714.7" y2="516.50"/><line x1="100.5" y1="492.50" x2="106.3" y2="492.50"/><line x1="720.5" y1="492.50" x2="714.7" y2="492.50"/><line x1="100.5" y1="467.50" x2="106.3" y2="467.50"/><line x1="720.5" y1="467.50" x2="714.7" y2="467.50"/><line x1="100.5" y1="443.50" x2="106.3" y2="443.50"/><line x1="720.5" y1="443.50" x2="714.7" y2="443.50"/><line x1="100.5" y1="419.50" x2="106.3" y2="419.50"/><line x1="720.5" y1="419.50" x2="714.7" y2="419.50"/><line x1="100.5" y1="395.50" x2="106.3" y2="395.50"/><line x1="720.5" y1="395.50" x2="714.7" y2="395.50"/><line x1="100.5" y1="370.50" x2="106.3" y2="370.50"/><line x1="720.5" y1="370.50" x2="714.7" y2="370.50"/><line x1="100.5" y1="346.50" x2="106.3" y2="346.50"/><line x1="720.5" y1="346.50" x2="714.7" y2="346.50"/><line x1="100.5" y1="322.50" x2="106.3" y2="322.50"/><line x1="720.5" y1="322.50" x2="714.7" y2="322.50"/>
</g>
<g fill="none" stroke="#000" stroke-width="1.4">
<rect x="100.5" y="60.5" width="620" height="218"/>
<rect x="100.5" y="322.5" width="620" height="218"/>
</g>
<g font-size="17">
<text x="100.00" y="294.98" text-anchor="middle" textLength="40" lengthAdjust="spacingAndGlyphs">1414</text><text x="177.50" y="294.98" text-anchor="middle" textLength="40" lengthAdjust="spacingAndGlyphs">1416</text><text x="255.00" y="294.98" text-anchor="middle" textLength="40" lengthAdjust="spacingAndGlyphs">1418</text><text x="332.50" y="294.98" text-anchor="middle" textLength="40" lengthAdjust="spacingAndGlyphs">1420</text><text x="410.00" y="294.98" text-anchor="middle" textLength="40" lengthAdjust="spacingAndGlyphs">1422</text><text x="487.50" y="294.98" text-anchor="middle" textLength="40" lengthAdjust="spacingAndGlyphs">1424</text><text x="565.00" y="294.98" text-anchor="middle" textLength="40" lengthAdjust="spacingAndGlyphs">1426</text><text x="642.50" y="294.98" text-anchor="middle" textLength="40" lengthAdjust="spacingAndGlyphs">1428</text><text x="720.00" y="294.98" text-anchor="middle" textLength="40" lengthAdjust="spacingAndGlyphs">1430</text>
<text x="94.80" y="283.28" text-anchor="end" textLength="10.6" lengthAdjust="spacingAndGlyphs">0</text><text x="94.80" y="239.64" text-anchor="end" textLength="30.0" lengthAdjust="spacingAndGlyphs">200</text><text x="94.80" y="196.01" text-anchor="end" textLength="30.0" lengthAdjust="spacingAndGlyphs">400</text><text x="94.80" y="152.37" text-anchor="end" textLength="30.0" lengthAdjust="spacingAndGlyphs">600</text><text x="94.80" y="108.74" text-anchor="end" textLength="30.0" lengthAdjust="spacingAndGlyphs">800</text><text x="94.80" y="65.10" text-anchor="end" textLength="40.6" lengthAdjust="spacingAndGlyphs">1000</text>
<text x="100.00" y="556.80" text-anchor="middle" textLength="40" lengthAdjust="spacingAndGlyphs">1398</text><text x="177.50" y="556.80" text-anchor="middle" textLength="40" lengthAdjust="spacingAndGlyphs">1400</text><text x="255.00" y="556.80" text-anchor="middle" textLength="40" lengthAdjust="spacingAndGlyphs">1402</text><text x="332.50" y="556.80" text-anchor="middle" textLength="40" lengthAdjust="spacingAndGlyphs">1404</text><text x="410.00" y="556.80" text-anchor="middle" textLength="40" lengthAdjust="spacingAndGlyphs">1406</text><text x="487.50" y="556.80" text-anchor="middle" textLength="40" lengthAdjust="spacingAndGlyphs">1408</text><text x="565.00" y="556.80" text-anchor="middle" textLength="40" lengthAdjust="spacingAndGlyphs">1410</text><text x="642.50" y="556.80" text-anchor="middle" textLength="40" lengthAdjust="spacingAndGlyphs">1412</text><text x="720.00" y="556.80" text-anchor="middle" textLength="40" lengthAdjust="spacingAndGlyphs">1414</text>
<text x="94.80" y="545.10" text-anchor="end" textLength="10.6" lengthAdjust="spacingAndGlyphs">0</text><text x="94.80" y="520.86" text-anchor="end" textLength="20.3" lengthAdjust="spacingAndGlyphs">50</text><text x="94.80" y="496.62" text-anchor="end" textLength="30.0" lengthAdjust="spacingAndGlyphs">100</text><text x="94.80" y="472.37" text-anchor="end" textLength="30.0" lengthAdjust="spacingAndGlyphs">150</text><text x="94.80" y="448.13" text-anchor="end" textLength="30.0" lengthAdjust="spacingAndGlyphs">200</text><text x="94.80" y="423.89" text-anchor="end" textLength="30.0" lengthAdjust="spacingAndGlyphs">250</text><text x="94.80" y="399.65" text-anchor="end" textLength="30.0" lengthAdjust="spacingAndGlyphs">300</text><text x="94.80" y="375.40" text-anchor="end" textLength="30.0" lengthAdjust="spacingAndGlyphs">350</text><text x="94.80" y="351.16" text-anchor="end" textLength="30.0" lengthAdjust="spacingAndGlyphs">400</text><text x="94.80" y="326.92" text-anchor="end" textLength="30.0" lengthAdjust="spacingAndGlyphs">450</text>
<text x="339.18" y="575.80" font-size="17" textLength="85.62" lengthAdjust="spacingAndGlyphs">Frequency</text><text x="430.45" y="575.80" font-size="17" textLength="49.29" lengthAdjust="spacingAndGlyphs">(MHz)</text>
<text transform="translate(42.90,265.30) rotate(-90)" x="-1.18" y="0" font-size="17" textLength="106.25" lengthAdjust="spacingAndGlyphs">Uncalibrated</text><text transform="translate(42.90,153.30) rotate(-90)" x="-0.60" y="0" font-size="17" textLength="83.38" lengthAdjust="spacingAndGlyphs">amplitude</text>
</g>
<g>
<rect x="587.5" y="66.5" width="127" height="34" fill="#fff" stroke="#000" stroke-width="1.4" stroke-linecap="round"/>
<line x1="595.6" y1="74.5" x2="611.4" y2="74.5" stroke="#ff0000" stroke-width="1.4" stroke-linecap="round"/>
<line x1="595.6" y1="90.4" x2="611.4" y2="90.4" stroke="#008000" stroke-width="1.4" stroke-linecap="round"/>
<text x="623.35" y="77.90" font-size="11.2" textLength="20.92" lengthAdjust="spacingAndGlyphs">XX1</text><text x="648.83" y="77.90" font-size="11.2" textLength="61.65" lengthAdjust="spacingAndGlyphs">Tsys310.77</text>
<text x="623.41" y="92.90" font-size="11.2" textLength="19.68" lengthAdjust="spacingAndGlyphs">YY1</text><text x="647.63" y="92.90" font-size="11.2" textLength="54.34" lengthAdjust="spacingAndGlyphs">Tsys43.91</text>
<rect x="588.5" y="327.5" width="126" height="35" fill="#fff" stroke="#000" stroke-width="1.4" stroke-linecap="round"/>
<line x1="595.6" y1="336.5" x2="611.4" y2="336.5" stroke="#ff0000" stroke-width="1.4" stroke-linecap="round"/>
<line x1="595.6" y1="351.4" x2="611.4" y2="351.4" stroke="#008000" stroke-width="1.4" stroke-linecap="round"/>
<text x="623.35" y="338.90" font-size="11.2" textLength="21.49" lengthAdjust="spacingAndGlyphs">XX2</text><text x="648.83" y="338.90" font-size="11.2" textLength="61.54" lengthAdjust="spacingAndGlyphs">Tsys345.55</text>
<text x="623.41" y="354.50" font-size="11.2" textLength="19.68" lengthAdjust="spacingAndGlyphs">YY2</text><text x="647.63" y="354.50" font-size="11.2" textLength="54.59" lengthAdjust="spacingAndGlyphs">Tsys50.06</text>
</g>
</svg>
</body></html>
